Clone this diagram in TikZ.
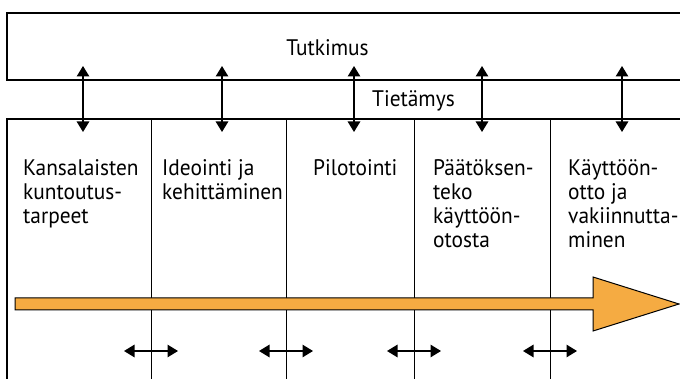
\documentclass[tikz,border=0pt]{standalone}
\usepackage{fontspec}
\setmainfont{PT Sans}[FakeStretch=0.95]
\usetikzlibrary{arrows.meta}
\definecolor{flow}{HTML}{F5AB42}

\begin{document}
\begin{tikzpicture}[x=1pt,y=-1pt,
  frame/.style={line width=1.3pt},
  divider/.style={line width=1pt},
  tip/.tip={Triangle[length=10.5pt,width=12.5pt]},
  link/.style={line width=1.3pt,tip-tip},
  % multi-line labels are placed by the baseline of their last line
  label/.style={font=\fontsize{22.5}{23.8}\selectfont,inner sep=0pt,align=left,anchor=base west},
  title/.style={font=\fontsize{22.5}{23.8}\selectfont,inner sep=0pt,anchor=base},
]
\useasboundingbox (0,0) rectangle (680,379);

% research band and knowledge line
\draw[frame] (681,13) -- (7,13) -- (7,80) -- (681,80);
\draw[frame] (681,119) -- (7,119) -- (7,380);
\node[title] (tutkimus) at (327.5,56) {Tutkimus};
\node[title] (tietamys) at (413.5,107) {Tietämys};

% phase columns
\foreach \x/\n in {151/d1,286/d2,414/d3,550/d4}{
  \coordinate (\n top) at (\x,119);
  \coordinate (\n bot) at (\x,380);
  \draw[divider] (\n top) -- (\n bot);
}

\node[label] (p1) at (23,223.6) {Kansalaisten\\kuntoutus-\\tarpeet};
\node[label] (p2) at (162,199.8) {Ideointi ja\\kehittäminen};
\node[label] (p3) at (313,176) {Pilotointi};
\node[label] (p4) at (433,247.4) {Päätöksen-\\teko\\käyttöön-\\otosta};
\node[label] (p5) at (568,247.4) {Käyttöön-\\otto ja\\vakiinnutta-\\minen};

% exchange between research and the phases
\foreach \x/\n in {83/a1,222/a2,354/a3,482/a4,622/a5}{
  \coordinate (\n up) at (\x,66);
  \coordinate (\n dn) at (\x,132);
  \draw[link] (\n up) -- (\n dn);
}

% process flow arrow
\draw[fill=flow,line width=1pt,line join=miter]
  (15,298) -- (593,298) -- (593,277) -- (679,304) -- (593,331) -- (593,310) -- (15,310) -- cycle;

% hand-overs between neighbouring phases
\foreach \x/\n in {151/h1,286/h2,414/h3,550/h4}{
  \coordinate (\n l) at (\x-27,351);
  \coordinate (\n r) at (\x+27,351);
  \draw[link] (\n l) -- (\n r);
}
\end{tikzpicture}
\end{document}
